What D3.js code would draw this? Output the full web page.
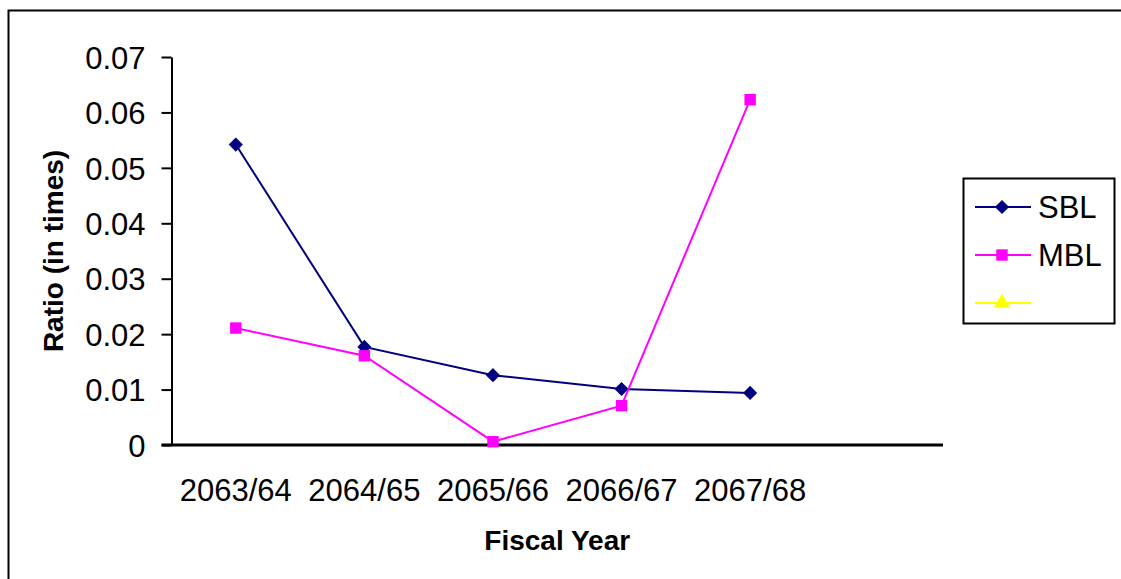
<!DOCTYPE html>
<html>
<head>
<meta charset="utf-8">
<script src="https://cdn.jsdelivr.net/npm/d3@7"></script>
<style>
  html, body { margin: 0; padding: 0; background: #fff; }
  svg { display: block; font-family: Arial, "Liberation Sans", sans-serif; }
</style>
</head>
<body>
<svg id="chart" width="1121" height="579"></svg>
<script>
// Fiscal years (an extra empty slot follows the last year on the axis)
const categories = ["2063/64", "2064/65", "2065/66", "2066/67", "2067/68"];
const sblValues = [0.0542, 0.0177, 0.0126, 0.0101, 0.0094];
const mblValues = [0.0211, 0.0161, 0.0006, 0.0071, 0.0623];
const yTicks = [0, 0.01, 0.02, 0.03, 0.04, 0.05, 0.06, 0.07];
const legendLabels = ["SBL", "MBL", ""];

const svg = d3.select("#chart");

// Outer chart frame
svg.append("rect")
  .attr("x", 8.5).attr("y", 10.5)
  .attr("width", 1130).attr("height", 590)
  .attr("fill", "#fff").attr("stroke", "#000").attr("stroke-width", 2);

const plot = { left: 171.5, right: 943, top: 57, bottom: 445 };

const x = d3.scaleBand()
  .domain(categories.concat(["__blank"]))
  .range([plot.left, plot.right])
  .paddingInner(0).paddingOuter(0);

const y = d3.scaleLinear()
  .domain([0, 0.07])
  .range([plot.bottom, plot.top]);

const cx = c => x(c) + x.bandwidth() / 2;

// Y axis
const yAxis = svg.append("g")
  .attr("transform", `translate(${plot.left},0)`)
  .call(d3.axisLeft(y)
    .tickValues(yTicks)
    .tickSize(10)
    .tickSizeOuter(0)
    .tickPadding(16)
    .tickFormat(d => d === 0 ? "0" : d3.format(".2f")(d)));
yAxis.select(".domain").attr("stroke", "#000").attr("stroke-width", 2);
yAxis.selectAll(".tick line").attr("stroke", "#000").attr("stroke-width", 2);
yAxis.selectAll(".tick text")
  .attr("fill", "#000")
  .style("font-size", "31px")
  .attr("dy", "0.36em");

// X axis
const xAxis = svg.append("g")
  .attr("transform", `translate(0,${plot.bottom})`)
  .call(d3.axisBottom(x)
    .tickValues(categories)
    .tickSize(0)
    .tickSizeOuter(0)
    .tickPadding(34));
xAxis.select(".domain").attr("stroke", "#000").attr("stroke-width", 3)
  .attr("d", `M${plot.left - 10},0H${plot.right}`);
xAxis.selectAll(".tick text")
  .attr("fill", "#000")
  .style("font-size", "31px")
  .attr("dy", "0.71em");

// Axis titles
svg.append("text")
  .attr("transform", `translate(63,${(plot.top + plot.bottom) / 2}) rotate(-90)`)
  .attr("text-anchor", "middle")
  .style("font-size", "28px")
  .style("font-weight", "bold")
  .text("Ratio (in times)");

svg.append("text")
  .attr("x", (plot.left + plot.right) / 2)
  .attr("y", 550)
  .attr("text-anchor", "middle")
  .style("font-size", "28px")
  .style("font-weight", "bold")
  .text("Fiscal Year");

// Marker shapes: diamond is a square turned 45 degrees
const markerDefs = {
  diamond: { type: d3.symbolSquare, size: 100, rotate: 45 },
  square: { type: d3.symbolSquare, size: 130, rotate: 0 },
  triangle: { type: d3.symbolTriangle, size: 120, rotate: 0 }
};

const series = [
  { name: "SBL", values: sblValues, color: "#000080", marker: "diamond" },
  { name: "MBL", values: mblValues, color: "#FF00FF", marker: "square" }
];

const line = d3.line()
  .x((d, i) => cx(categories[i]))
  .y(d => y(d));

series.forEach(s => {
  const m = markerDefs[s.marker];
  svg.append("path")
    .datum(s.values)
    .attr("d", line)
    .attr("fill", "none")
    .attr("stroke", s.color)
    .attr("stroke-width", 2);
  svg.append("g").selectAll("path")
    .data(s.values)
    .join("path")
    .attr("transform", (d, i) => `translate(${cx(categories[i])},${y(d)}) rotate(${m.rotate})`)
    .attr("d", d3.symbol().type(m.type).size(m.size))
    .attr("fill", s.color);
});

// Legend
const legend = svg.append("g");
legend.append("rect")
  .attr("x", 963.5).attr("y", 178.5)
  .attr("width", 151).attr("height", 145)
  .attr("fill", "#fff").attr("stroke", "#000").attr("stroke-width", 2);

const legendItems = [
  { label: legendLabels[0], color: "#000080", marker: "diamond" },
  { label: legendLabels[1], color: "#FF00FF", marker: "square" },
  { label: legendLabels[2], color: "#FFFF00", marker: "triangle" }
];
const legendY = [207, 255, 303];
legendItems.forEach((it, i) => {
  const m = markerDefs[it.marker];
  const g = legend.append("g").attr("transform", `translate(0,${legendY[i]})`);
  g.append("line")
    .attr("x1", 975).attr("x2", 1031)
    .attr("stroke", it.color).attr("stroke-width", 2);
  g.append("path")
    .attr("transform", `translate(1002,0) rotate(${m.rotate})`)
    .attr("d", d3.symbol().type(m.type).size(m.size))
    .attr("fill", it.color);
  g.append("text")
    .attr("x", 1038)
    .attr("dy", "0.36em")
    .style("font-size", "31px")
    .text(it.label);
});
</script>
</body>
</html>
